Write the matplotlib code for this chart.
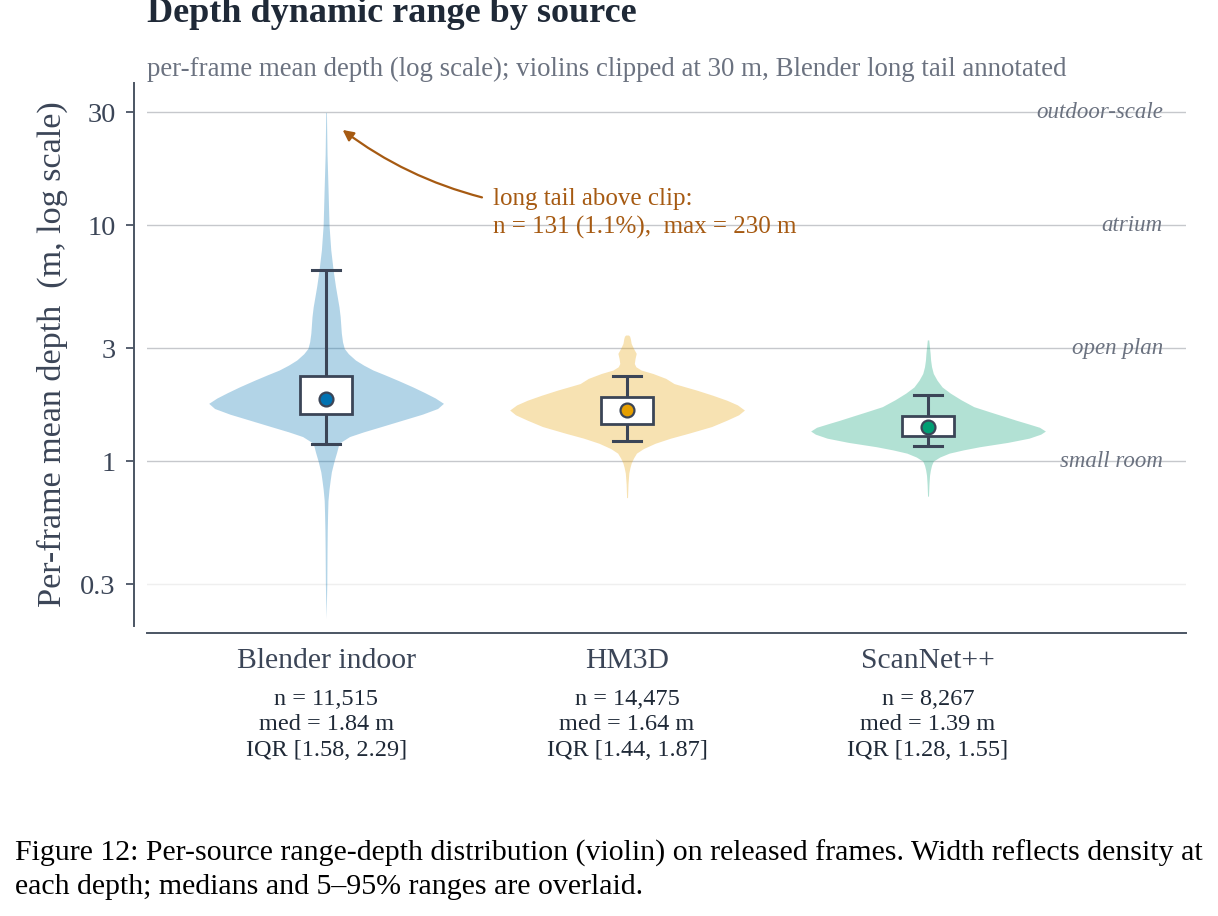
import numpy as np
import matplotlib.pyplot as plt

plt.rcParams['font.family'] = ['Liberation Serif', 'DejaVu Serif']

# ---- data ----
sources = ['Blender indoor', 'HM3D', 'ScanNet++']
colors = ['#0072B2', '#E69F00', '#009E73']
n_frames = [11515, 14475, 8267]
medians = [1.84, 1.64, 1.39]
q1s = [1.58, 1.44, 1.28]
q3s = [2.29, 1.87, 1.55]
p05 = [1.18, 1.215, 1.16]
p95 = [6.45, 2.29, 1.90]

# violin outlines: depth (m) and relative half-width
blender_depth = [0.215, 0.30, 0.42, 0.51, 0.60, 0.68, 0.76, 0.83, 0.90, 1.00, 1.09,
                 1.19, 1.27, 1.33, 1.40, 1.49, 1.58, 1.67, 1.756, 1.85, 1.95, 2.06,
                 2.20, 2.32, 2.43, 2.55, 2.68, 2.85, 3.00, 3.20, 3.48, 4.09, 4.50,
                 4.81, 5.50, 6.45, 7.84, 10.0, 14.0, 20.0, 30.0]
blender_width = [0.0, 0.006, 0.008, 0.01, 0.013, 0.016, 0.025, 0.035, 0.045, 0.068, 0.09,
                 0.11, 0.20, 0.32, 0.47, 0.65, 0.82, 0.95, 1.0, 0.93, 0.84, 0.74,
                 0.61, 0.50, 0.40, 0.32, 0.25, 0.19, 0.155, 0.14, 0.13, 0.12, 0.11,
                 0.10, 0.08, 0.06, 0.04, 0.025, 0.017, 0.008, 0.003]
hm3d_depth = [0.70, 0.80, 0.89, 0.94, 0.98, 1.03, 1.08, 1.13, 1.19, 1.25, 1.31, 1.40,
              1.49, 1.57, 1.645, 1.73, 1.81, 1.90, 2.00, 2.06, 2.13, 2.24, 2.35, 2.43,
              2.51, 2.59, 2.72, 2.86, 3.00, 3.15, 3.30, 3.38, 3.42]
hm3d_width = [0.004, 0.008, 0.015, 0.025, 0.035, 0.055, 0.08, 0.14, 0.24, 0.37, 0.52, 0.72,
              0.85, 0.95, 1.0, 0.94, 0.85, 0.73, 0.59, 0.50, 0.40, 0.33, 0.22, 0.12,
              0.075, 0.062, 0.068, 0.078, 0.055, 0.035, 0.028, 0.022, 0.012]
scannet_depth = [0.71, 0.80, 0.87, 0.916, 0.96, 1.00, 1.04, 1.08, 1.115, 1.15, 1.20, 1.25,
                 1.30, 1.34, 1.39, 1.445, 1.49, 1.54, 1.62, 1.70, 1.82, 1.94, 2.06, 2.20,
                 2.35, 2.51, 2.68, 2.86, 3.05, 3.26]
scannet_width = [0.004, 0.008, 0.013, 0.02, 0.03, 0.045, 0.10, 0.18, 0.30, 0.44, 0.68, 0.86,
                 0.96, 1.0, 0.95, 0.84, 0.75, 0.66, 0.52, 0.39, 0.28, 0.19, 0.12, 0.077,
                 0.045, 0.03, 0.022, 0.018, 0.012, 0.006]
profiles = [(blender_depth, blender_width), (hm3d_depth, hm3d_width),
            (scannet_depth, scannet_width)]

zone_depths = [30, 10, 3, 1]
zone_names = ['outdoor-scale', 'atrium', 'open plan', 'small room']

tail_n, tail_pct, tail_max = 131, 1.1, 230

# ---- figure ----
ink = '#1f2937'
slate = '#3b4557'
fig = plt.figure(figsize=(12.18, 9.16), dpi=100)
ax = fig.add_axes([0.1207, 0.3166, 0.853, 0.5928])

half = 0.39
for i, (d, w) in enumerate(profiles):
    w = np.array(w) * half
    ax.fill_betweenx(d, i - w, i + w, color=colors[i], alpha=0.3, lw=0, zorder=2)

bw = 0.173
for i in range(3):
    ax.plot([i, i], [p05[i], q1s[i]], color=slate, lw=2.2, zorder=3, solid_capstyle='butt')
    ax.plot([i, i], [q3s[i], p95[i]], color=slate, lw=2.2, zorder=3, solid_capstyle='butt')
    for v in (p05[i], p95[i]):
        ax.plot([i - 0.046, i + 0.046], [v, v], color=slate, lw=2.2, zorder=3)
    ax.add_patch(plt.Rectangle((i - bw / 2, q1s[i]), bw, q3s[i] - q1s[i],
                               facecolor='white', edgecolor=slate, lw=2, zorder=4))
    ax.plot(i, medians[i], 'o', ms=10, mfc=colors[i], mec=slate, mew=1.6, zorder=5)

ax.set_yscale('log')
ax.set_ylim(0.2, 40)
ax.set_xlim(-0.595, 2.857)
ax.minorticks_off()
ax.set_yticks([0.3, 1, 3, 10, 30])
ax.set_yticklabels(['0.3', '1', '3', '10', '30'])
ax.set_xticks(range(3))
ax.set_xticklabels(sources)
ax.tick_params(axis='x', length=0, pad=10.5, labelsize=21.3, labelcolor=slate)
ax.tick_params(axis='y', length=6, width=1.2, color=slate, pad=7, labelsize=20.5,
               labelcolor=slate)

ax.axhline(0.3, color='#efefef', lw=1, zorder=1)
for d, name in zip(zone_depths, zone_names):
    ax.axhline(d, color='#c6c8cc', lw=1, zorder=1)
    ax.text(2.78, d, name, ha='right', va='center', style='italic', fontsize=16.5,
            color='#6b7280', zorder=1)

for s in ('top', 'right'):
    ax.spines[s].set_visible(False)
ax.spines['left'].set_position(('outward', 9.5))
ax.spines['bottom'].set_position(('outward', 5))
for s in ('left', 'bottom'):
    ax.spines[s].set_color('#4b5563')
    ax.spines[s].set_linewidth(1.4)

ax.set_ylabel('Per-frame mean depth  (m, log scale)', fontsize=24.6, color=slate, labelpad=9)

# long-tail annotation
tail_color = '#a65a12'
ax.annotate('', xy=(0.055, 25.3), xytext=(0.518, 13.1),
            arrowprops=dict(arrowstyle='-|>', color=tail_color, lw=1.6,
                            mutation_scale=16, shrinkA=0, shrinkB=0,
                            connectionstyle='arc3,rad=-0.1'))
ax.text(0.553, 14.3, f'long tail above clip:\nn = {tail_n} ({tail_pct}%),  max = {tail_max} m',
        ha='left', va='top', fontsize=18, color=tail_color, linespacing=1.33)

# per-source stats under the axis
for i in range(3):
    ax.text(i, -0.182, f'n = {n_frames[i]:,}\nmed = {medians[i]:.2f} m\nIQR [{q1s[i]:.2f}, {q3s[i]:.2f}]',
            transform=ax.get_xaxis_transform(), ha='center', va='center',
            fontsize=17.5, color=ink, linespacing=1.3)

fig.text(0.1207, 0.976, 'Depth dynamic range by source', fontsize=26, fontweight='bold',
         color=ink, ha='left', va='baseline')
fig.text(0.1207, 0.917, 'per-frame mean depth (log scale); violins clipped at 30 m, '
         'Blender long tail annotated', fontsize=19.4, color='#6b7280', ha='left', va='baseline')

fig.text(0.0123, 0.0835, 'Figure 12: Per-source range-depth distribution (violin) on released '
         'frames. Width reflects density at\neach depth; medians and 5\u201395% ranges are overlaid.',
         fontsize=21.5, color='black', ha='left', va='top', linespacing=1.36)

fig.savefig('out.png', dpi=100)
